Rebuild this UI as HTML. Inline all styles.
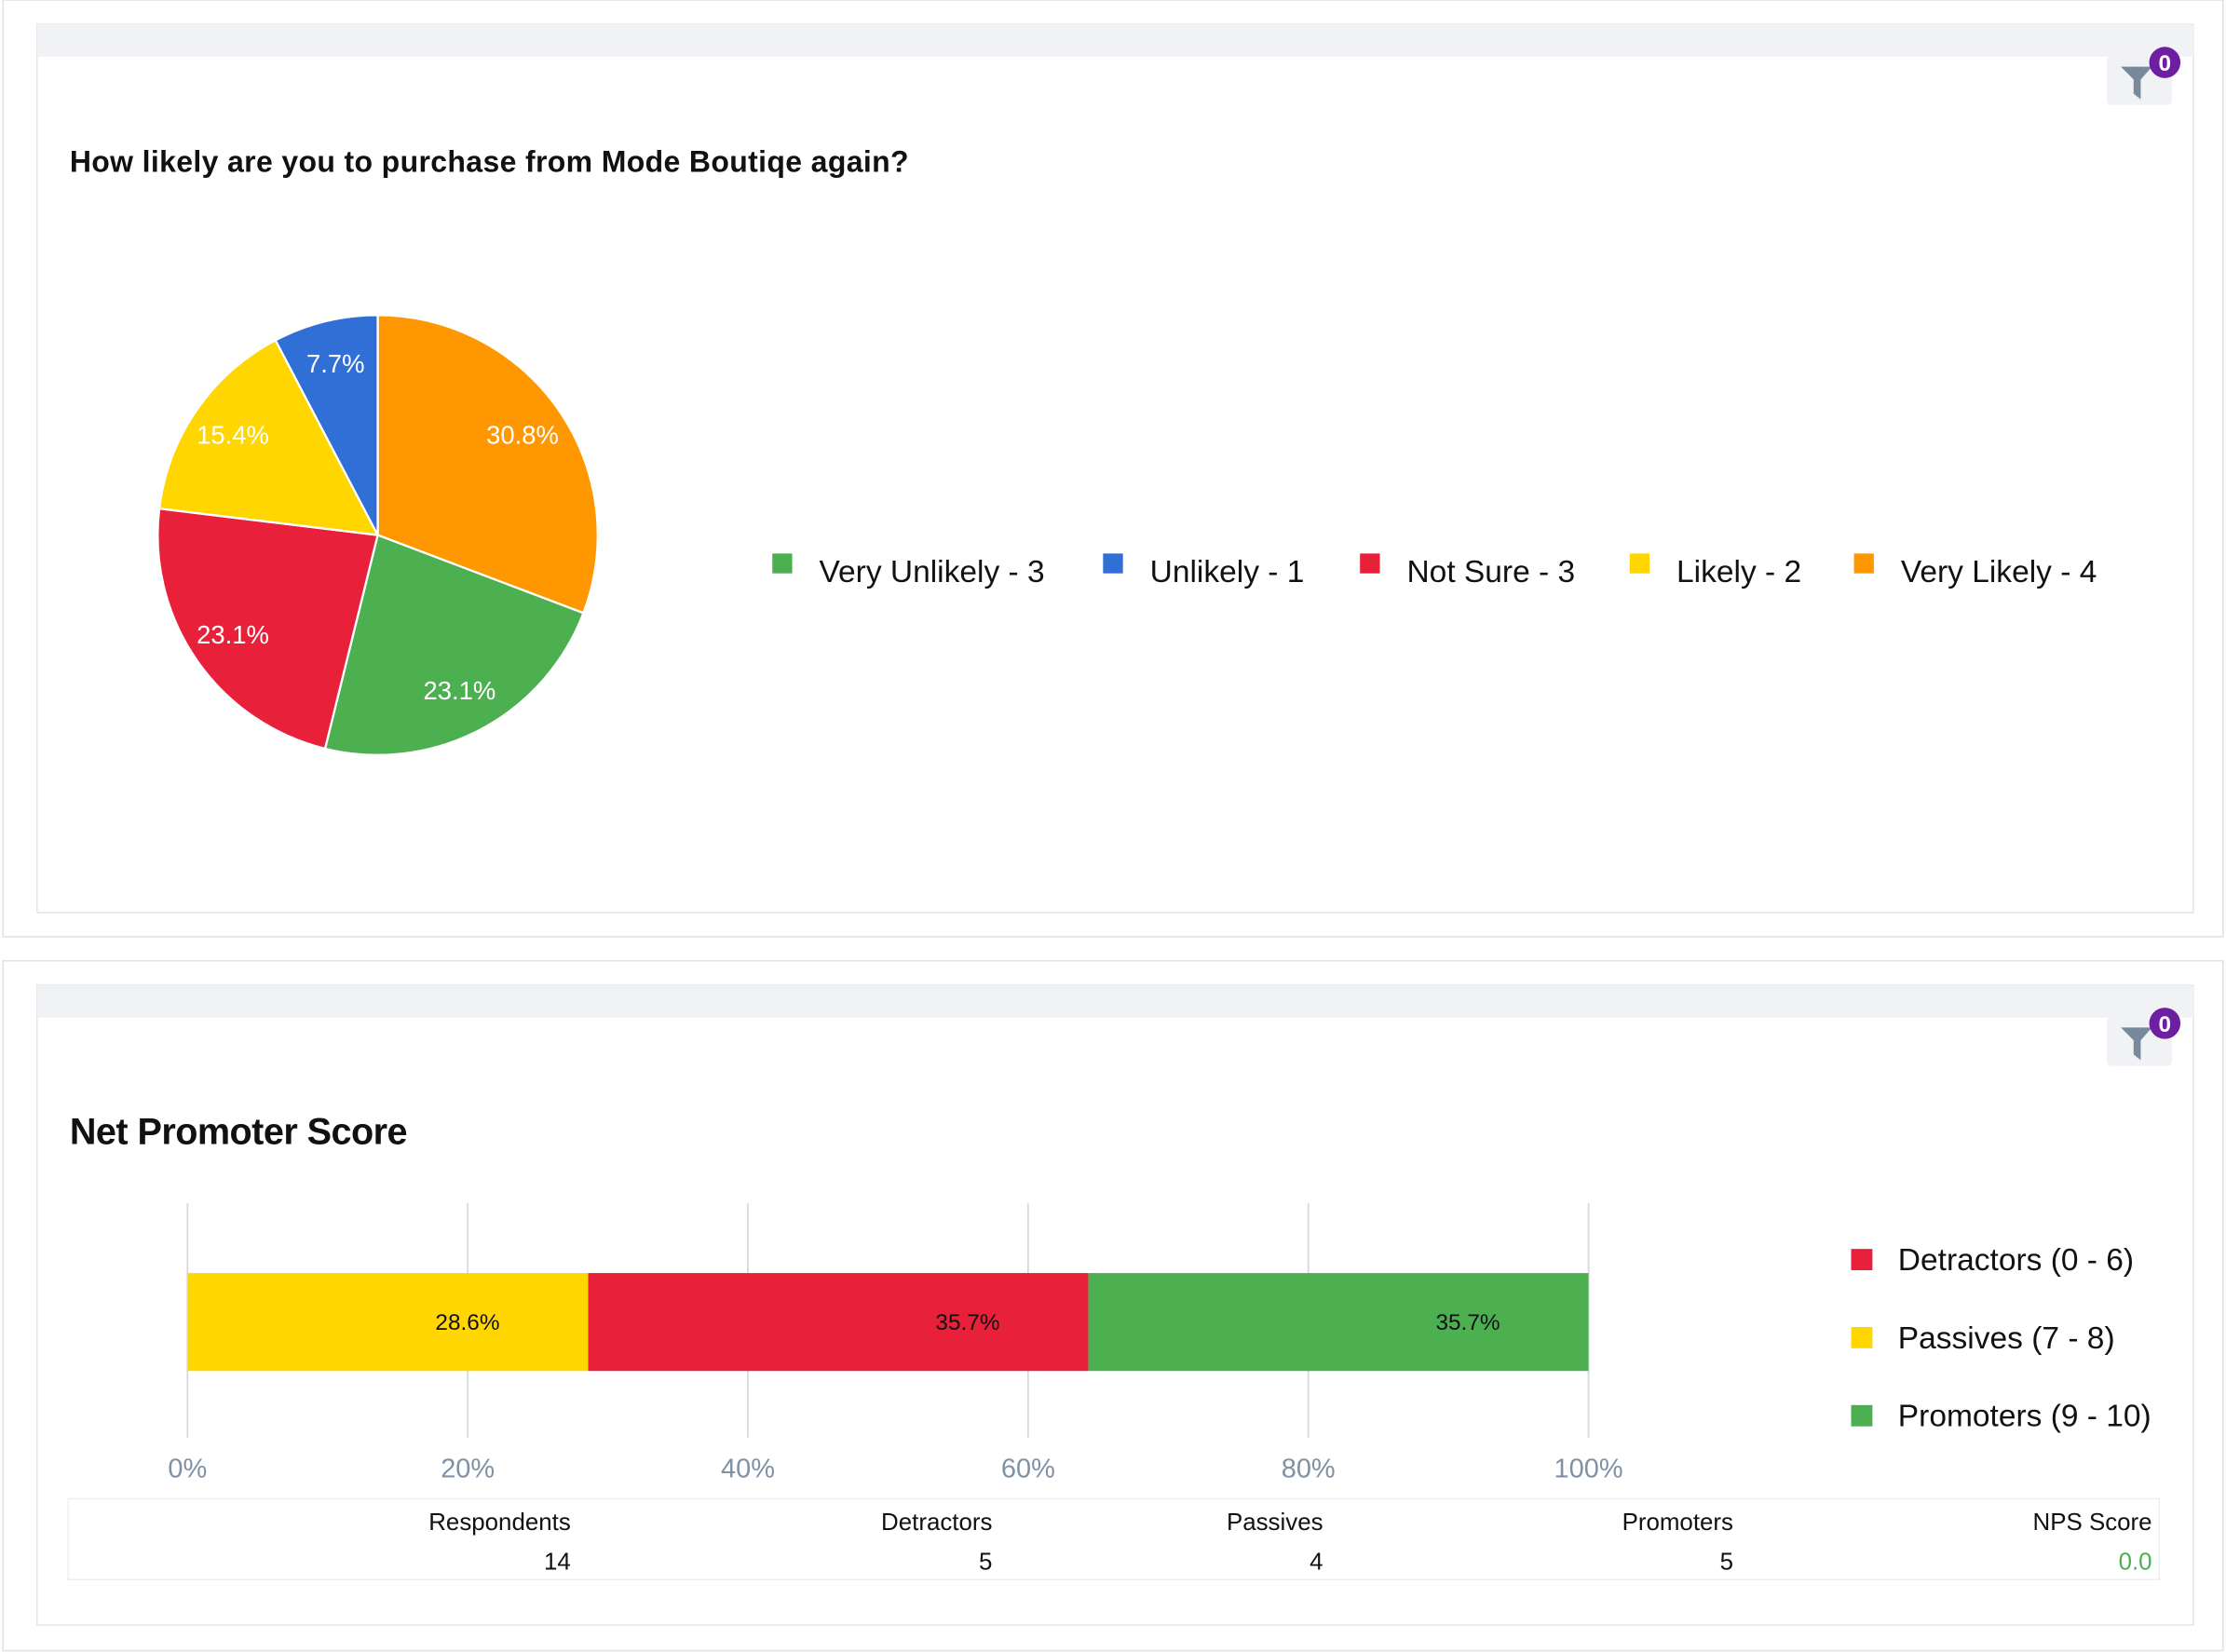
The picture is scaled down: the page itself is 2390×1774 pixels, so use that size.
<!DOCTYPE html>
<html><head><meta charset="utf-8"><style>
html,body{margin:0;padding:0;background:#fff;width:2390px;height:1774px;overflow:hidden}
svg{display:block;font-family:"Liberation Sans",sans-serif}
</style></head><body>
<svg id="s" width="2390" height="1774" viewBox="0 0 1568 1164" xmlns="http://www.w3.org/2000/svg">
<rect width="1568" height="1164" fill="#ffffff"/>
<rect x="2" y="0" width="1564" height="660" fill="#fff" stroke="#dfe2e6"/>
<rect x="26" y="17" width="1519" height="626" fill="#fff" stroke="#e3e5e8"/>
<rect x="26" y="17" width="1519" height="23" fill="#f1f2f5"/>
<g>
<rect x="1484" y="40" width="46" height="34" rx="3" fill="#f1f2f5"/>
<path d="M1494 47 L1516 47 L1508 56 L1508 70 L1503 66 L1503 56 Z" fill="#77899b"/>
<circle cx="1525" cy="44" r="11" fill="#6e1ea0"/>
<text x="1525" y="50" text-anchor="middle" font-size="16" font-weight="bold" fill="#fff">0</text>
</g>
<text x="49" y="121" font-size="21" font-weight="bold" fill="#111" textLength="591">How likely are you to purchase from Mode Boutiqe again?</text>
<g id="pie"></g>
<g id="pieLegend"></g>
<rect x="2" y="677" width="1564" height="486" fill="#fff" stroke="#dfe2e6"/>
<rect x="26" y="694" width="1519" height="451" fill="#fff" stroke="#e3e5e8"/>
<rect x="26" y="694" width="1519" height="23" fill="#f1f2f5"/>
<g>
<rect x="1484" y="717" width="46" height="34" rx="3" fill="#f1f2f5"/>
<path d="M1494 724 L1516 724 L1508 733 L1508 747 L1503 743 L1503 733 Z" fill="#77899b"/>
<circle cx="1525" cy="721" r="11" fill="#6e1ea0"/>
<text x="1525" y="727" text-anchor="middle" font-size="16" font-weight="bold" fill="#fff">0</text>
</g>
<text x="49" y="806" font-size="26" font-weight="bold" fill="#111" textLength="238">Net Promoter Score</text>
<g id="bar"></g>
<g id="npsLegend"></g>
<rect x="48" y="1056" width="1473" height="57" fill="#fff" stroke="#eceef1"/>
<g id="tbl"></g>
</svg>
<script>
const NS="http://www.w3.org/2000/svg";
function mk(p,t,a,txt){const e=document.createElementNS(NS,t);for(const k in a)e.setAttribute(k,a[k]);if(txt!==undefined)e.textContent=txt;p.appendChild(e);return e;}
const pieCategories=["Very Unlikely","Unlikely","Not Sure","Likely","Very Likely"];
const pieCounts=[3,1,3,2,4];
const pieColors=["#4caf50","#2f6fd6","#e8203a","#ffd600","#ff9800"];
const pieDrawOrder=[4,0,2,3,1];
const pie=document.getElementById('pie');
const total=pieCounts.reduce((a,b)=>a+b,0);
const cx=266,cy=377,R=155;
let ang=0;
pieDrawOrder.forEach(i=>{
  const v=pieCounts[i]/total, a0=ang, a1=ang+v*2*Math.PI; ang=a1;
  const p0=[cx+R*Math.sin(a0),cy-R*Math.cos(a0)], p1=[cx+R*Math.sin(a1),cy-R*Math.cos(a1)];
  const large=(a1-a0)>Math.PI?1:0;
  const path=mk(pie,'path',{d:`M${cx} ${cy} L${p0[0]} ${p0[1]} A${R} ${R} 0 ${large} 1 ${p1[0]} ${p1[1]} Z`,fill:pieColors[i],stroke:'#fff','stroke-width':1.5});
  
  
  const m=(a0+a1)/2, r2=R*0.8;
  const t=mk(pie,'text',{x:cx+r2*Math.sin(m),y:cy-r2*Math.cos(m)+6,'text-anchor':'middle','font-size':18,fill:'#fff'},(v*100).toFixed(1)+'%');
  
  
});
const pl=document.getElementById('pieLegend');
const legX=[544,777,958,1148,1306];
pieCategories.forEach((c,i)=>{
  const g=mk(pl,'g',{});
  
  
  mk(g,'rect',{x:legX[i],y:390,width:14,height:14,fill:pieColors[i]});
  mk(g,'text',{x:legX[i]+33,y:410,'font-size':22,fill:'#111'},c+' - '+pieCounts[i]);
});
const barCategories=["Passives","Detractors","Promoters"];
const barValues=[28.6,35.7,35.7];
const barColors=["#ffd600","#e8203a","#4caf50"];
const xTicks=[0,20,40,60,80,100];
const bar=document.getElementById('bar');
const x0=132,x1=1119;const X=v=>x0+(x1-x0)*v/100;
xTicks.forEach(t=>{
  const l=mk(bar,'line',{x1:X(t),x2:X(t),y1:848,y2:1013,stroke:'#d5d9de','stroke-width':1.2});
  
  
  const tx=mk(bar,'text',{x:X(t),y:1041,'text-anchor':'middle','font-size':19,fill:'#7f91a5'},t+'%');
  
  
});
let acc=0;
barValues.forEach((v,i)=>{
  const r=mk(bar,'rect',{x:X(acc),y:897,width:X(acc+v)-X(acc),height:69,fill:barColors[i]});
  
  
  acc+=v;
  const t=mk(bar,'text',{x:X(acc)-85,y:937,'text-anchor':'middle','font-size':16,fill:'#111'},v.toFixed(1)+'%');
  
  
});
const nl=document.getElementById('npsLegend');
const npsLeg=[["Detractors (0 - 6)","#e8203a"],["Passives (7 - 8)","#ffd600"],["Promoters (9 - 10)","#4caf50"]];
npsLeg.forEach((d,i)=>{
  const g=mk(nl,'g',{});
  
  
  const y=880+i*55;
  mk(g,'rect',{x:1304,y:y,width:15,height:15,fill:d[1]});
  mk(g,'text',{x:1337,y:y+15,'font-size':22,fill:'#111'},d[0]);
});
const tbl=document.getElementById('tbl');
const tblHeads=["Respondents","Detractors","Passives","Promoters","NPS Score"];
const tblVals=["14","5","4","5","0.0"];
const tblX=[402,699,932,1221,1516];
tblHeads.forEach((h,i)=>{
  const t=mk(tbl,'text',{x:tblX[i],y:1078,'text-anchor':'end','font-size':17,fill:'#111'},h);
  
  
  const v=mk(tbl,'text',{x:tblX[i],y:1106,'text-anchor':'end','font-size':17,fill:i==4?'#4caf50':'#111'},tblVals[i]);
  
  
});
</script>
</body></html>
